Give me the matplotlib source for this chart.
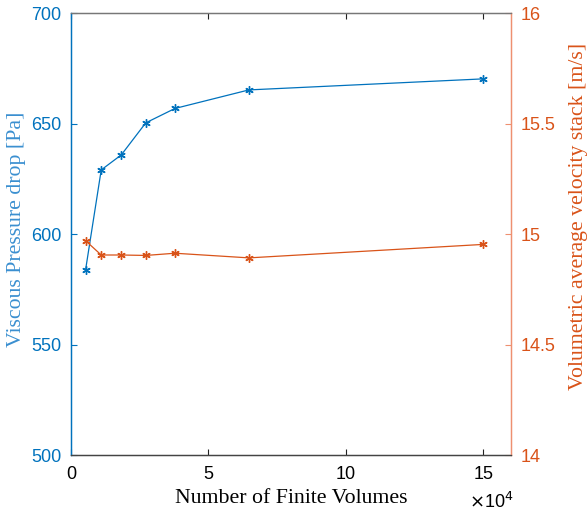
import matplotlib.pyplot as plt
from matplotlib.ticker import FuncFormatter

# mesh sizes and the two monitored quantities
n_volumes = [5300, 11000, 18300, 27200, 37800, 64700, 150000]
pressure_drop = [583.7, 629.0, 635.8, 650.3, 656.8, 665.2, 670.2]
velocity_stack = [14.97, 14.905, 14.905, 14.903, 14.913, 14.892, 14.953]

blue = '#0072BD'
red = '#D95319'
asterisk = (6, 2, 0)

fig = plt.figure(figsize=(5.88, 5.16), dpi=100)
ax = fig.add_axes([0.1207, 0.1182, 0.7483, 0.8566])
ax2 = ax.twinx()

ax.plot(n_volumes, pressure_drop, color=blue, lw=0.9, marker=asterisk, ms=6, mew=1.0)
ax2.plot(n_volumes, velocity_stack, color=red, lw=0.9, marker=asterisk, ms=6, mew=1.0)

ax.set_xlim(0, 16e4)
ax.set_ylim(500, 700)
ax2.set_ylim(14, 16)
ax.set_xticks([0, 5e4, 10e4, 15e4])
ax.xaxis.set_major_formatter(FuncFormatter(lambda v, p: f'{v / 1e4:g}'))
ax.set_yticks([500, 550, 600, 650, 700])
ax2.set_yticks([14, 14.5, 15, 15.5, 16])
ax2.yaxis.set_major_formatter(FuncFormatter(lambda v, p: f'{v:g}'))

tick_font = 'Liberation Sans'
for a in (ax, ax2):
    for lab in a.get_xticklabels() + a.get_yticklabels():
        lab.set_fontfamily(tick_font)
        lab.set_fontsize(13)

ax.tick_params(axis='x', direction='in', top=True, length=4, width=0.8,
               color='#222222', labelcolor='black', pad=8)
ax.tick_params(axis='y', direction='in', length=4, width=0.8, color=blue,
               labelcolor=blue, pad=7)
ax2.tick_params(axis='y', direction='in', length=4, width=0.8, color='#EE9070',
                labelcolor=red, pad=7)

for a in (ax, ax2):
    a.spines['top'].set_color('#777777')
    a.spines['bottom'].set_color('#444444')
    a.spines['left'].set_color(blue)
    a.spines['right'].set_color('#EE9070')
    for s in a.spines.values():
        s.set_linewidth(0.9)

serif = 'Liberation Serif'
ax.set_xlabel('Number of Finite Volumes', family=serif, fontsize=15.7, labelpad=4)
ax.set_ylabel('Viscous Pressure drop [Pa]', family=serif, fontsize=15.7,
              color='#3A8FD0', labelpad=3.5)
ax.yaxis.label.set_y(0.51)
ax2.set_ylabel('Volumetric average velocity stack [m/s]', family=serif,
               fontsize=15.7, color=red, labelpad=10)
ax2.yaxis.label.set_y(0.54)

fig.text(0.797, 0.015, r'$\times$10$^4$', family=tick_font, fontsize=13)

fig.savefig('out.png', dpi=100)
